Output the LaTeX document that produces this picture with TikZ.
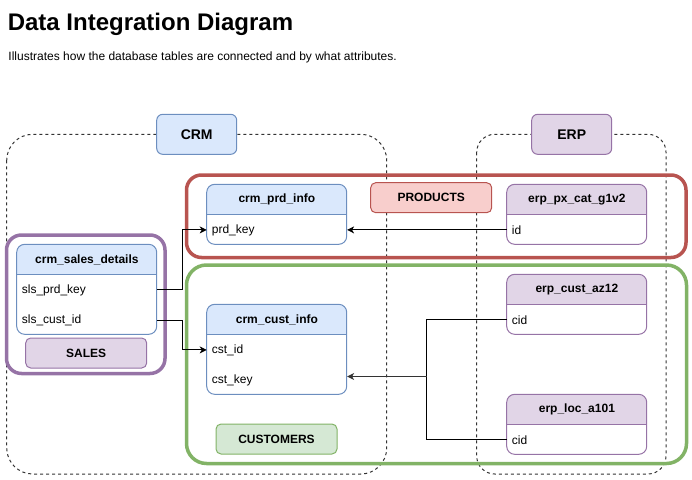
\documentclass[tikz,border=0pt]{standalone}
\usepackage{fontspec}
\setmainfont{Liberation Sans}
\usetikzlibrary{arrows.meta, positioning}

\definecolor{bluefill}{HTML}{DAE8FC}
\definecolor{blueline}{HTML}{6C8EBF}
\definecolor{purplefill}{HTML}{E1D5E7}
\definecolor{purpleline}{HTML}{9673A6}
\definecolor{redfill}{HTML}{F8CECC}
\definecolor{redline}{HTML}{B85450}
\definecolor{greenfill}{HTML}{D5E8D4}
\definecolor{greenline}{HTML}{82B366}

\tikzset{
    tblhead/.style = {minimum width = 140pt, minimum height = 30pt, inner sep = 0pt,
        font = \fontsize{12}{14}\selectfont\bfseries},
    tblrow/.style = {minimum height = 30pt, text width = 130pt, inner xsep = 5pt,
        inner ysep = 0pt, align = left, font = \fontsize{12}{14}\selectfont},
    labelbox/.style = {draw = #1line, fill = #1fill, rounded corners = 5pt, line width = 1pt,
        minimum width = 121pt, minimum height = 30pt, inner sep = 0pt,
        font = \fontsize{12}{14}\selectfont\bfseries},
    sysbox/.style = {draw = #1line, fill = #1fill, rounded corners = 6pt, line width = 1pt,
        minimum width = 80pt, minimum height = 40pt, inner sep = 0pt,
        font = \fontsize{14}{16}\selectfont\bfseries},
    sysframe/.style = {draw = black!80, dash pattern = on 3pt off 3pt, line width = 1pt},
    groupframe/.style = {draw = #1line, line width = 3.5pt},
    link/.style = {-{Stealth[length = 7pt, width = 7pt, inset = 2pt]}, line width = 1pt},
}

% table frame with coloured header: name, north west corner, title, colour, rows
\newcommand{\dbtable}[5]{%
    \coordinate (#1-nw) at #2;
    \begin{scope}
        \clip[rounded corners = 8pt] (#1-nw) rectangle ++(140pt, -30pt-30pt*#5);
        \fill[#4fill] (#1-nw) rectangle ++(140pt, -30pt);
    \end{scope}
    \draw[#4line, line width = 1pt, rounded corners = 8pt]
        (#1-nw) rectangle ++(140pt, -30pt-30pt*#5);
    \draw[#4line, line width = 1pt] ([yshift = -30pt]#1-nw) -- ++(140pt, 0);
    \node[tblhead, anchor = north west] (#1) at (#1-nw) {#3};
}

\begin{document}
\begin{tikzpicture}[x = 1pt, y = -1pt]

    \useasboundingbox (0, 0) rectangle (692, 479);

    % Heading.
    \node[anchor = base west, inner sep = 0pt, font = \fontsize{24}{28}\selectfont\bfseries]
        (title) at (7.6, 30) {Data Integration Diagram};
    \node[anchor = base west, inner sep = 0pt, font = \fontsize{12}{14}\selectfont]
        (subtitle) at (8.3, 60) {Illustrates how the database tables are connected and by what attributes.};

    % Source systems.
    \draw[sysframe, rounded corners = 26pt] (6.7, 134.3) rectangle (386.7, 474);
    \draw[sysframe, rounded corners = 18pt] (476.7, 134.3) rectangle (666, 474);
    \node[sysbox = blue] (crm) at (196.7, 134.3) {CRM};
    \node[sysbox = purple] (erp) at (571.7, 134.3) {ERP};

    % Subject groups.
    \draw[groupframe = red, rounded corners = 15pt] (186.5, 175) rectangle (686, 257.5);
    \draw[groupframe = green, rounded corners = 20pt] (186.5, 265) rectangle (686.5, 463.5);
    \draw[groupframe = purple, rounded corners = 15pt] (6.5, 235) rectangle (165, 373.5);
    \node[labelbox = red] (products) at (431.2, 197.7) {PRODUCTS};
    \node[labelbox = purple] (sales) at (86.2, 353) {SALES};
    \node[labelbox = green] (customers) at (276.5, 439) {CUSTOMERS};

    % Tables.
    \dbtable{prd}{(206.7, 184.3)}{crm\_prd\_info}{blue}{1}
    \node[tblrow, below = 0pt of prd] (prdkey) {prd\_key};

    \dbtable{salesdet}{(16.7, 244.3)}{crm\_sales\_details}{blue}{2}
    \node[tblrow, below = 0pt of salesdet] (slsprdkey) {sls\_prd\_key};
    \node[tblrow, below = 0pt of slsprdkey] (slscustid) {sls\_cust\_id};

    \dbtable{cust}{(206.7, 304.3)}{crm\_cust\_info}{blue}{2}
    \node[tblrow, below = 0pt of cust] (cstid) {cst\_id};
    \node[tblrow, below = 0pt of cstid] (cstkey) {cst\_key};

    \dbtable{pxcat}{(506.7, 184.3)}{erp\_px\_cat\_g1v2}{purple}{1}
    \node[tblrow, below = 0pt of pxcat] (pxid) {id};

    \dbtable{custaz}{(506.7, 274.3)}{erp\_cust\_az12}{purple}{1}
    \node[tblrow, below = 0pt of custaz] (custcid) {cid};

    \dbtable{loc}{(506.7, 394.3)}{erp\_loc\_a101}{purple}{1}
    \node[tblrow, below = 0pt of loc] (loccid) {cid};

    % Connections.
    \draw[link] (slsprdkey.east) -- ++(25, 0) |- (prdkey.west);
    \draw[link] (slscustid.east) -- ++(25, 0) |- (cstid.west);
    \draw[link] (pxid.west) -- (prdkey.east);
    \coordinate (join) at (426.7, 376.5);
    \draw[line width = 1pt] (custcid.west) -| (join);
    \draw[line width = 1pt] (loccid.west) -| (join);
    \draw[link, line width = 1.6pt, black!80] (join) -- (join -| cstkey.east);

\end{tikzpicture}
\end{document}
